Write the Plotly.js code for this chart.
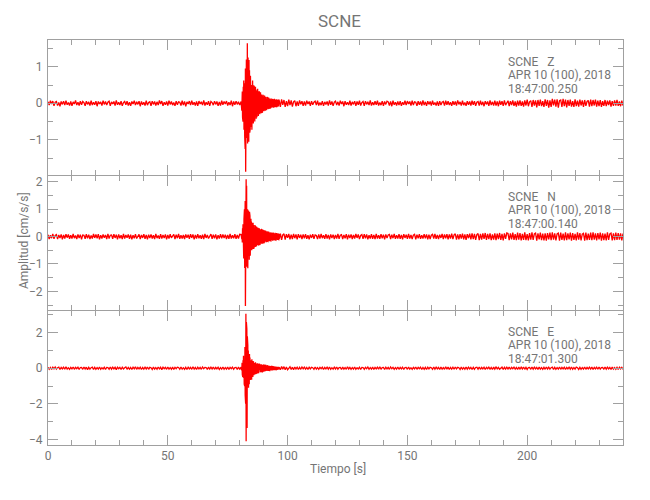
<!DOCTYPE html>
<html>
<head>
<meta charset="utf-8">
<script src="https://cdn.plot.ly/plotly-3.0.1.min.js"></script>
<style>
  html, body { margin: 0; padding: 0; background: #ffffff; }
  #chart { width: 650px; height: 500px; }
</style>
</head>
<body>
<div id="chart"></div>
<script>
// ---- Data ----
const stationName = "SCNE";
const components = ["Z", "N", "E"];
const dateLabel = "APR 10 (100), 2018";
const startTimes = ["18:47:00.250", "18:47:00.140", "18:47:01.300"];

// time base of the hand-read samples: quiet parts every 0.5 s, event window every 0.1 s
const preStart = 0, preStep = 0.5;
const evtStart = 80.6, evtStep = 0.1;
const postStart = 97, postStep = 0.5;

// ---------- Z component ----------
const zPre = [
 0.04,-0.05,0.07,-0.02,0.06,-0.07,0.03,0.05,-0.06,0.02,-0.08,0.05,-0.03,0.06,-0.05,0.07,-0.04,0.02,-0.06,0.05,
 -0.07,0.04,-0.02,0.08,-0.05,0.03,-0.06,0.06,-0.04,0.05,0.02,-0.07,0.06,-0.03,0.04,-0.06,0.07,-0.05,0.03,-0.04,
 0.06,-0.08,0.05,-0.02,0.04,-0.06,0.07,-0.03,0.05,-0.05,0.03,0.06,-0.07,0.04,-0.02,0.05,-0.06,0.08,-0.04,0.03,
 -0.05,0.06,-0.07,0.02,0.05,-0.04,0.06,-0.06,0.03,-0.07,0.05,-0.02,0.07,-0.05,0.04,-0.03,0.06,-0.08,0.05,-0.04,
 0.03,-0.06,0.07,-0.05,0.02,0.04,-0.07,0.06,-0.03,0.05,-0.06,0.04,-0.05,0.08,-0.02,0.06,-0.07,0.03,-0.04,0.05,
 -0.06,0.07,-0.03,0.05,-0.05,0.02,-0.07,0.06,-0.04,0.04,0.03,-0.06,0.07,-0.05,0.05,-0.08,0.04,-0.02,0.06,-0.05,
 0.07,-0.04,0.03,-0.06,0.05,-0.07,0.06,-0.02,0.04,-0.05,0.08,-0.06,0.03,-0.04,0.06,-0.07,0.05,0.02,-0.05,0.06,
 -0.03,0.05,-0.07,0.04,-0.06,0.07,-0.04,0.05,-0.02,0.06,-0.06,0.03,-0.05,0.07,-0.08,0.05,-0.04,0.06,-0.03,0.04,
 -0.05];
const zEvt = [
 0.05,-0.04,0.12,-0.2,0.08,0.32,-0.38,0.15,-0.5,0.45,
 -0.3,0.62,-0.72,0.2,0.55,-0.9,0.78,-1.25,0.95,-1.87,
 0.7,-1.35,1.2,-0.6,0.4,-0.95,1.64,-1.1,0.85,1.25,
 -0.9,0.5,-1.05,1.18,-0.4,0.9,-0.8,0.3,-0.7,0.75,
 -0.35,0.6,-0.65,0.2,0.5,-0.72,0.4,-0.5,0.62,-0.3,
 0.5,-0.55,0.25,-0.45,0.48,-0.2,0.42,-0.5,0.3,-0.35,
 0.45,-0.25,0.38,-0.42,0.15,0.35,-0.38,0.22,-0.3,0.4,
 -0.2,0.32,-0.35,0.12,-0.28,0.33,-0.15,0.25,-0.3,0.18,
 -0.25,0.3,-0.12,0.22,-0.27,0.1,0.24,-0.22,0.15,-0.26,
 0.2,-0.1,0.23,-0.2,0.08,-0.22,0.18,-0.15,0.21,-0.12,
 0.16,-0.2,0.06,0.18,-0.17,0.12,-0.19,0.08,-0.14,0.17,
 -0.1,0.15,-0.16,0.05,-0.13,0.16,-0.09,0.12,-0.15,0.07,
 0.13,-0.12,0.06,-0.14,0.1,-0.07,0.13,-0.11,0.05,-0.12,
 0.11,-0.06,0.12,-0.1,0.04,0.11,-0.12,0.07,-0.09,0.12,
 -0.05,0.1,-0.11,0.06,-0.1,0.09,-0.04,0.11,-0.09,0.05,
 -0.1,0.08,-0.06,0.1,-0.08,0.04,-0.09,0.1,-0.05,0.08];
const zPost = [
 -0.1,0.11,-0.04,0.09,-0.1,0.06,-0.08,0.1,-0.05,0.08,-0.09,0.04,0.07,-0.08,0.05,-0.07,0.08,-0.03,0.06,-0.07,
 0.05,-0.06,0.07,-0.02,0.05,-0.07,0.06,-0.04,0.03,0.06,-0.05,0.07,-0.06,0.02,-0.05,0.06,-0.07,0.04,-0.03,0.05,
 -0.06,0.08,-0.04,0.05,-0.07,0.03,0.06,-0.05,0.04,-0.06,0.07,-0.02,0.05,-0.08,0.06,-0.04,0.03,-0.05,0.07,-0.06,
 0.04,-0.03,0.06,-0.07,0.05,-0.04,0.07,-0.06,0.02,0.05,-0.07,0.06,-0.03,0.04,-0.05,0.08,-0.06,0.03,-0.05,0.06,
 -0.04,0.07,-0.06,0.02,-0.05,0.06,-0.07,0.05,-0.03,0.06,0.04,-0.06,0.05,-0.08,0.07,-0.04,0.03,-0.06,0.05,-0.05,
 0.06,-0.07,0.03,-0.04,0.07,-0.05,0.06,-0.02,0.05,-0.06,0.07,-0.05,0.04,0.03,-0.07,0.06,-0.04,0.05,-0.06,0.08,
 -0.05,0.04,-0.07,0.06,-0.03,0.05,-0.06,0.07,-0.04,0.02,-0.06,0.05,-0.07,0.06,-0.05,0.03,0.05,-0.06,0.07,-0.04,
 0.06,-0.05,0.03,-0.07,0.06,-0.04,0.05,-0.06,0.08,-0.03,0.04,-0.06,0.07,-0.05,0.02,-0.07,0.06,-0.04,0.05,-0.06,
 0.07,-0.04,0.06,-0.07,0.03,0.05,-0.06,0.07,-0.05,0.04,-0.08,0.06,-0.03,0.05,-0.07,0.08,-0.05,0.04,-0.06,0.07,
 -0.06,0.05,-0.08,0.07,-0.04,0.06,-0.07,0.08,-0.05,0.03,0.07,-0.08,0.06,-0.05,0.08,-0.07,0.05,-0.09,0.07,-0.06,
 0.08,-0.07,0.05,-0.09,0.08,-0.06,0.1,-0.08,0.04,0.07,-0.1,0.09,-0.06,0.08,-0.11,0.09,-0.07,0.1,-0.08,0.06,
 -0.1,0.11,-0.07,0.09,-0.12,0.08,-0.1,0.12,-0.06,0.1,-0.09,0.11,-0.12,0.07,0.09,-0.1,0.12,-0.08,0.1,-0.11,
 0.09,-0.07,0.1,-0.09,0.06,-0.1,0.11,-0.08,0.07,-0.09,0.1,-0.06,0.08,-0.1,0.09,-0.07,0.05,0.08,-0.09,0.1,
 -0.08,0.09,-0.06,0.1,-0.09,0.07,-0.08,0.09,-0.1,0.06,-0.07,0.09,-0.08,0.07,-0.05,0.08,-0.09,0.06,-0.07,0.08,
 -0.06,0.09,-0.07,0.05,-0.08,0.07,-0.06];

// ---------- N component ----------
const nPre = [
 0.07,-0.09,0.05,-0.06,0.1,-0.08,0.04,0.07,-0.09,0.06,-0.05,0.08,-0.1,0.06,-0.07,0.09,-0.04,0.08,-0.08,0.05,
 -0.07,0.1,-0.06,0.04,-0.09,0.08,-0.05,0.07,-0.1,0.06,0.05,-0.08,0.09,-0.06,0.07,-0.09,0.04,-0.07,0.1,-0.05,
 0.08,-0.06,0.09,-0.1,0.05,-0.07,0.08,-0.04,0.06,-0.09,0.1,-0.07,0.05,0.06,-0.08,0.09,-0.05,0.07,-0.1,0.08,
 -0.06,0.05,-0.09,0.1,-0.07,0.06,-0.04,0.08,-0.08,0.07,-0.1,0.05,-0.06,0.09,-0.07,0.04,0.08,-0.09,0.06,-0.05,
 0.09,-0.08,0.06,-0.1,0.07,-0.05,0.08,-0.07,0.05,-0.09,0.1,-0.06,0.04,-0.08,0.09,-0.07,0.06,-0.05,0.08,-0.1,
 0.06,-0.07,0.09,-0.05,0.04,0.08,-0.09,0.07,-0.06,0.1,-0.08,0.05,-0.07,0.06,-0.09,0.08,-0.04,0.07,-0.08,0.09,
 -0.05,0.08,-0.1,0.06,-0.07,0.09,-0.06,0.05,-0.08,0.07,-0.09,0.1,-0.05,0.06,-0.07,0.04,0.09,-0.08,0.07,-0.06,
 0.08,-0.1,0.05,-0.07,0.09,-0.06,0.08,-0.05,0.07,-0.09,0.06,-0.08,0.1,-0.07,0.05,-0.06,0.09,-0.08,0.06,-0.07,
 0.08];
const nEvt = [
 0.07,-0.08,0.05,-0.09,0.1,-0.22,0.3,-0.15,0.45,-0.55,
 0.4,-0.8,0.65,-0.3,1.0,-1.15,0.55,1.3,-2.53,1.1,
 -1.2,2.09,-0.6,1.85,-1.1,0.5,-0.9,1.0,-1.16,0.4,
 -0.7,0.95,-0.5,0.7,-0.85,0.9,-0.3,0.75,-0.7,0.35,
 -0.55,0.65,-0.25,0.55,-0.5,0.2,0.5,-0.43,0.3,-0.45,
 0.5,-0.2,0.42,-0.45,0.18,-0.4,0.4,-0.25,0.42,-0.38,
 0.15,0.38,-0.33,0.25,-0.36,0.35,-0.15,0.3,-0.32,0.12,
 -0.3,0.32,-0.18,0.28,-0.33,0.1,0.3,-0.27,0.2,-0.28,
 0.26,-0.12,0.27,-0.25,0.15,-0.26,0.25,-0.1,0.24,-0.26,
 0.12,-0.23,0.25,-0.14,0.22,-0.25,0.1,0.23,-0.22,0.14,
 -0.2,0.22,-0.1,0.21,-0.19,0.08,-0.21,0.18,-0.12,0.19,
 -0.17,0.09,-0.18,0.17,-0.06,0.18,-0.16,0.1,-0.17,0.15,
 -0.08,0.16,-0.15,0.06,-0.16,0.14,-0.1,0.15,-0.13,0.07,
 0.14,-0.15,0.08,-0.13,0.15,-0.06,0.12,-0.14,0.09,-0.13,
 0.12,-0.07,0.14,-0.12,0.06,-0.13,0.11,-0.08,0.13,-0.11,
 0.07,-0.12,0.11,-0.06,0.12,-0.1,0.08,-0.11,0.1,-0.09];
const nPost = [
 0.11,-0.12,0.06,0.1,-0.11,0.09,-0.05,0.1,-0.1,0.07,-0.09,0.1,-0.06,0.08,-0.1,0.09,-0.05,0.07,-0.09,0.08,
 -0.06,0.09,-0.08,0.05,-0.1,0.07,-0.05,0.09,-0.08,0.06,0.04,-0.09,0.08,-0.07,0.1,-0.06,0.05,-0.08,0.09,-0.07,
 0.06,-0.1,0.08,-0.05,0.07,-0.09,0.06,-0.07,0.1,-0.08,0.05,0.07,-0.09,0.06,-0.06,0.09,-0.1,0.07,-0.05,0.08,
 -0.09,0.06,-0.07,0.1,-0.05,0.08,-0.09,0.04,0.07,-0.08,0.09,-0.06,0.08,-0.1,0.05,-0.07,0.09,-0.08,0.06,-0.09,
 0.1,-0.07,0.05,-0.08,0.09,-0.06,0.07,-0.1,0.08,-0.05,0.06,0.08,-0.09,0.07,-0.06,0.1,-0.08,0.05,-0.07,0.09,
 -0.08,0.06,-0.1,0.09,-0.05,0.07,-0.08,0.1,-0.07,0.06,-0.09,0.05,0.08,-0.1,0.07,-0.06,0.09,-0.08,0.05,-0.07,
 0.09,-0.06,0.08,-0.1,0.07,-0.09,0.05,0.08,-0.07,0.1,-0.08,0.06,-0.09,0.07,-0.05,0.1,-0.09,0.08,-0.06,0.09,
 -0.1,0.08,-0.07,0.11,-0.09,0.06,0.1,-0.11,0.08,-0.1,0.09,-0.07,0.11,-0.1,0.08,-0.12,0.09,-0.06,0.11,-0.1,
 0.12,-0.09,0.1,-0.12,0.07,0.11,-0.13,0.1,-0.11,0.12,-0.08,0.13,-0.12,0.1,-0.09,0.12,-0.13,0.08,-0.11,0.12,
 -0.13,0.11,-0.09,0.13,-0.12,0.1,-0.14,0.12,-0.08,0.13,0.11,-0.13,0.12,-0.1,0.14,-0.12,0.09,-0.13,0.14,-0.11,
 0.13,-0.14,0.1,-0.12,0.15,-0.13,0.09,-0.14,0.13,-0.11,0.15,-0.12,0.1,0.13,-0.15,0.12,-0.1,0.14,-0.13,0.11,
 -0.14,0.12,-0.15,0.13,-0.1,0.14,-0.13,0.15,-0.11,0.12,-0.14,0.1,0.13,-0.15,0.14,-0.12,0.11,-0.14,0.15,-0.13,
 0.12,-0.1,0.14,-0.15,0.13,-0.12,0.1,-0.14,0.15,-0.11,0.13,-0.14,0.09,0.12,-0.15,0.14,-0.13,0.11,-0.12,0.14,
 -0.13,0.15,-0.11,0.12,-0.14,0.13,-0.1,0.14,-0.15,0.12,-0.13,0.11,-0.14,0.15,-0.12,0.1,0.13,-0.14,0.12,-0.13,
 0.14,-0.12,0.13,-0.11,0.12,-0.14,0.11];

// ---------- E component ----------
const ePre = [
 0.05,-0.06,0.04,-0.07,0.06,-0.03,0.07,-0.05,0.03,0.06,-0.07,0.05,-0.04,0.06,-0.06,0.08,-0.05,0.03,-0.06,0.05,
 -0.04,0.07,-0.06,0.05,-0.03,0.06,-0.07,0.04,0.05,-0.06,0.07,-0.04,0.06,-0.08,0.05,-0.05,0.03,0.06,-0.07,0.05,
 -0.06,0.04,-0.05,0.07,-0.06,0.03,-0.04,0.06,-0.07,0.05,0.04,-0.06,0.07,-0.05,0.06,-0.04,0.05,-0.08,0.06,-0.03,
 0.05,-0.07,0.06,-0.04,0.03,0.07,-0.06,0.05,-0.05,0.04,-0.07,0.06,-0.03,0.08,-0.06,0.05,-0.04,0.06,-0.07,0.04,
 -0.05,0.06,-0.04,0.07,-0.06,0.05,0.03,-0.07,0.06,-0.05,0.04,-0.06,0.07,-0.04,0.05,-0.08,0.06,-0.03,0.05,-0.06,
 0.07,-0.05,0.04,-0.06,0.06,-0.07,0.05,-0.03,0.06,0.04,-0.06,0.07,-0.05,0.03,-0.06,0.05,-0.07,0.06,-0.04,0.05,
 -0.06,0.08,-0.05,0.04,-0.07,0.06,-0.04,0.05,-0.06,0.07,-0.03,0.05,0.04,-0.07,0.06,-0.05,0.06,-0.04,0.07,-0.06,
 0.05,-0.04,0.06,-0.07,0.03,-0.05,0.07,-0.06,0.04,-0.05,0.06,-0.07,0.05,-0.03,0.06,-0.06,0.04,0.05,-0.07,0.06,
 -0.05];
const eEvt = [
 0.06,-0.07,0.15,-0.1,0.3,-0.35,0.12,-0.5,0.45,-0.2,
 0.7,-0.55,0.3,-0.9,0.75,-1.0,1.2,-1.5,2.2,-2.0,
 3.06,-4.11,2.6,-1.2,2.2,-3.37,1.8,-0.8,1.3,-0.95,
 1.0,-1.1,0.4,0.73,-0.9,0.8,-0.35,0.6,-0.65,0.3,
 0.5,-0.55,0.45,-0.2,-0.65,0.5,-0.45,0.2,0.4,-0.5,
 0.38,-0.2,0.35,-0.4,0.15,-0.38,0.3,-0.35,0.32,-0.15,
 0.34,-0.28,0.12,-0.32,0.27,-0.3,0.28,-0.1,0.28,-0.3,
 0.12,-0.27,0.24,-0.28,0.1,0.23,-0.25,0.22,-0.1,0.24,
 -0.22,0.2,-0.23,0.08,0.21,-0.2,0.22,-0.19,0.1,-0.2,
 0.18,-0.21,0.08,-0.17,0.2,-0.18,0.17,-0.07,0.16,-0.18,
 0.17,-0.15,0.06,0.16,-0.15,0.14,-0.08,0.15,-0.14,0.16,
 -0.06,0.13,-0.15,0.14,-0.13,0.05,0.14,-0.12,0.1,-0.13,
 0.12,-0.05,0.13,-0.12,0.11,-0.13,0.06,0.12,-0.11,0.1,
 -0.12,0.04,-0.1,0.12,-0.11,0.1,-0.05,0.11,-0.1,0.09,
 -0.1,0.09,-0.04,0.08,-0.09,0.1,-0.08,0.05,-0.1,0.08,
 -0.09,0.08,-0.04,0.08,-0.08,0.07,-0.05,0.08,-0.07,0.06];
const ePost = [
 -0.09,0.1,-0.05,0.09,-0.08,0.07,-0.09,0.04,0.08,-0.07,0.06,-0.08,0.07,-0.04,0.06,-0.07,0.05,-0.06,0.07,-0.03,
 0.06,-0.05,0.04,-0.07,0.06,-0.04,0.05,0.03,-0.06,0.07,-0.05,0.04,-0.06,0.05,-0.03,0.06,-0.07,0.05,-0.04,0.06,
 -0.05,0.07,-0.06,0.03,-0.05,0.06,-0.04,0.07,-0.06,0.04,0.05,-0.07,0.06,-0.05,0.04,-0.06,0.08,-0.04,0.05,-0.06,
 0.04,-0.05,0.07,-0.06,0.03,-0.04,0.06,-0.07,0.05,0.04,-0.06,0.05,-0.03,0.07,-0.06,0.04,-0.05,0.06,-0.07,0.05,
 -0.04,0.06,-0.05,0.08,-0.06,0.04,0.05,-0.07,0.06,-0.04,0.05,-0.06,0.07,-0.03,0.05,-0.06,0.04,-0.05,0.07,-0.06,
 0.05,-0.04,0.06,-0.07,0.04,0.05,-0.06,0.07,-0.05,0.03,-0.06,0.05,-0.04,0.07,-0.06,0.05,-0.03,0.06,-0.07,0.04,
 -0.06,0.05,-0.07,0.06,-0.04,0.05,0.03,-0.06,0.07,-0.05,0.06,-0.04,0.05,-0.07,0.06,-0.05,0.04,-0.06,0.08,-0.05,
 0.06,-0.07,0.04,-0.05,0.06,-0.06,0.07,-0.04,0.05,0.03,-0.07,0.06,-0.05,0.04,-0.06,0.07,-0.05,0.06,-0.04,0.05,
 -0.07,0.05,-0.06,0.04,0.06,-0.05,0.07,-0.06,0.05,-0.04,0.06,-0.07,0.05,-0.03,0.06,-0.05,0.04,-0.07,0.06,-0.05,
 0.07,-0.04,0.05,-0.06,0.03,0.06,-0.07,0.05,-0.05,0.06,-0.04,0.07,-0.06,0.05,-0.03,0.06,-0.05,0.04,-0.07,0.06,
 -0.05,0.06,-0.04,0.07,-0.06,0.05,-0.07,0.04,0.05,-0.06,0.07,-0.05,0.06,-0.04,0.05,-0.07,0.06,-0.05,0.04,-0.06,
 0.05,-0.06,0.07,-0.04,0.06,-0.05,0.03,0.06,-0.07,0.05,-0.06,0.04,-0.05,0.07,-0.06,0.05,-0.04,0.06,-0.07,0.05,
 -0.04,0.06,-0.05,0.07,-0.06,0.04,-0.05,0.06,0.03,-0.07,0.05,-0.06,0.04,-0.05,0.07,-0.06,0.05,-0.04,0.06,-0.05,
 0.06,-0.07,0.05,-0.04,0.06,-0.06,0.07,-0.05,0.04,0.05,-0.06,0.07,-0.05,0.06,-0.04,0.05,-0.07,0.06,-0.05,0.04,
 -0.06,0.05,-0.07,0.06,-0.04,0.05,-0.06];

// ---- Build traces ----
function timeBase(t0, dt, n) {
  const a = [];
  for (let i = 0; i < n; i++) a.push(Math.round((t0 + i * dt) * 100) / 100);
  return a;
}
function makeSeries(pre, evt, post) {
  return {
    x: timeBase(preStart, preStep, pre.length)
        .concat(timeBase(evtStart, evtStep, evt.length))
        .concat(timeBase(postStart, postStep, post.length)),
    y: pre.concat(evt, post)
  };
}
const seriesList = [makeSeries(zPre, zEvt, zPost), makeSeries(nPre, nEvt, nPost), makeSeries(ePre, eEvt, ePost)];
const axisIds = [["x", "y"], ["x2", "y2"], ["x3", "y3"]];

const traces = seriesList.map((s, i) => ({
  type: "scatter", mode: "lines",
  x: s.x, y: s.y,
  xaxis: axisIds[i][0], yaxis: axisIds[i][1],
  line: { color: "#ff0000", width: 1.3 },
  hoverinfo: "skip", showlegend: false
}));

const FONT = "Roboto, 'Liberation Sans', sans-serif";
const TXT = "#757575";
const LINE = "#a0a0a0";

function xAxis(anchor, showLabels) {
  return {
    anchor: anchor, range: [0, 240], dtick: 50, tick0: 0,
    ticks: "inside", ticklen: 10, tickwidth: 1, tickcolor: LINE,
    minor: { ticks: "inside", ticklen: 5, dtick: 10, tickcolor: LINE, tickwidth: 1 },
    showline: true, linecolor: LINE, linewidth: 1, mirror: "allticks",
    showgrid: false, zeroline: false,
    showticklabels: showLabels,
    tickfont: { family: FONT, size: 12, color: TXT }
  };
}
function yAxis(domain, range, dtick, minorDtick, anchor) {
  return {
    domain: domain, range: range, dtick: dtick, tick0: 0, anchor: anchor,
    ticks: "inside", ticklen: 10, tickwidth: 1, tickcolor: LINE,
    minor: { ticks: "inside", ticklen: 5, dtick: minorDtick, tickcolor: LINE, tickwidth: 1 },
    showline: true, linecolor: LINE, linewidth: 1, mirror: "allticks",
    showgrid: false, zeroline: false,
    ticklabelstandoff: 2,
    tickfont: { family: FONT, size: 12, color: TXT }
  };
}

// pixel helpers for layout placement (plot area 48..623 x 40..445)
const PLOT_H = 405, PLOT_BOTTOM = 445;
const pyToPaper = py => (PLOT_BOTTOM - py) / PLOT_H;
const pxToPaper = px => (px - 48) / 575;

// panel domains: adjacent panels overlap by one pixel so their shared frame line coincides
const domZ = [pyToPaper(175), 1];
const domN = [pyToPaper(310), pyToPaper(176)];
const domE = [0, pyToPaper(311)];

const annotations = [];
annotations.push({ text: stationName, xref: "paper", yref: "paper", x: pxToPaper(339), y: pyToPaper(21),
  xanchor: "center", yanchor: "middle", showarrow: false, font: { family: FONT, size: 17, color: TXT } });
annotations.push({ text: "Tiempo [s]", xref: "paper", yref: "paper", x: pxToPaper(338), y: pyToPaper(469),
  xanchor: "center", yanchor: "middle", showarrow: false, font: { family: FONT, size: 12, color: TXT } });
annotations.push({ text: "Amplitud [cm/s/s]", xref: "paper", yref: "paper", x: pxToPaper(24), y: pyToPaper(240),
  xanchor: "center", yanchor: "middle", textangle: -90, showarrow: false, font: { family: FONT, size: 12, color: TXT } });

const panelTops = [40, 175, 310];
components.forEach((c, i) => {
  const lines = [stationName + "\u00a0\u00a0\u00a0" + c, dateLabel, startTimes[i]];
  const offs = [21.7, 35, 49.3];
  lines.forEach((t, j) => {
    annotations.push({ text: t, xref: "paper", yref: "paper", x: pxToPaper(506), y: pyToPaper(panelTops[i] + offs[j]),
      xanchor: "left", yanchor: "middle", showarrow: false, font: { family: FONT, size: 12, color: TXT } });
  });
});

const layout = {
  width: 650, height: 500,
  margin: { l: 48, r: 27, t: 40, b: 55, pad: 0 },
  paper_bgcolor: "#ffffff", plot_bgcolor: "#ffffff",
  showlegend: false,
  xaxis: xAxis("y", false),
  xaxis2: xAxis("y2", false),
  xaxis3: xAxis("y3", true),
  yaxis: yAxis(domZ, [-1.96, 1.73], 1, 0.5, "x"),
  yaxis2: yAxis(domN, [-2.68, 2.21], 1, 0.5, "x2"),
  yaxis3: yAxis(domE, [-4.32, 3.22], 2, 1, "x3"),
  annotations: annotations
};

Plotly.newPlot("chart", traces, layout, { staticPlot: true, displayModeBar: false });
</script>
</body>
</html>
